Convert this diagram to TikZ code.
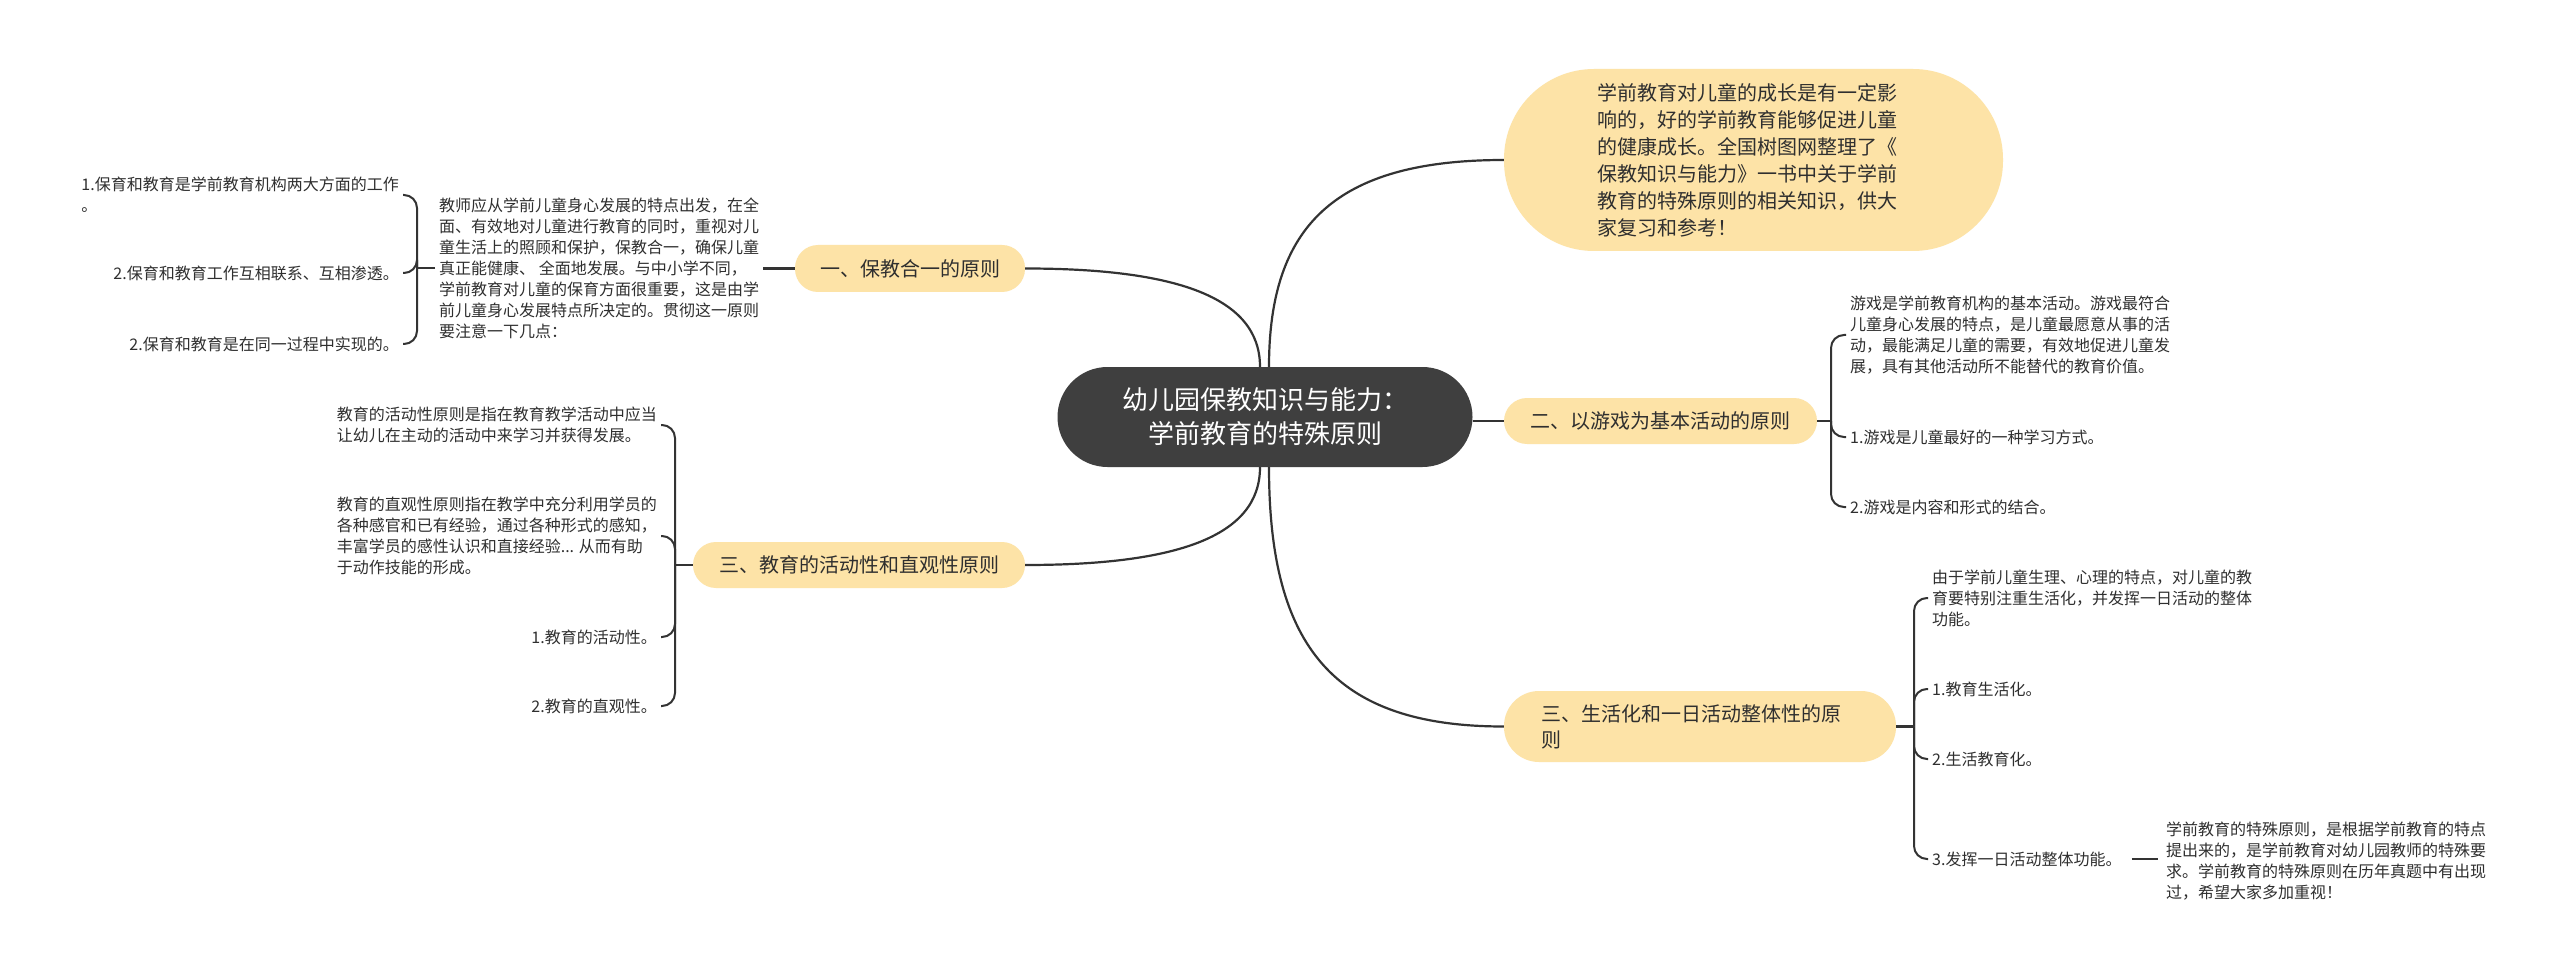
\documentclass[tikz,border=0pt]{standalone}
\usepackage{fontspec}
\setmainfont{Noto Sans CJK SC}
\definecolor{nodefill}{HTML}{FDE3A7}
\definecolor{rootfill}{HTML}{3F3F3F}
\definecolor{linec}{HTML}{333333}
\definecolor{txt}{HTML}{2F2F2F}
\begin{document}
\begin{tikzpicture}[x=1pt,y=-1pt,
  rootnode/.style={fill=rootfill, text=white, rounded corners=50pt, minimum width=415pt, minimum height=100pt, align=center, font=\fontsize{26}{34}\selectfont, inner sep=0pt},
  mainnode/.style={fill=nodefill, text=txt, font=\fontsize{20}{26}\selectfont, inner sep=0pt, align=center},
  small/.style={text=txt, font=\fontsize{16}{21}\selectfont, inner xsep=4pt, inner ysep=2pt, align=left},
  conn/.style={draw=linec, line width=2.2pt},
  brace/.style={draw=linec, line width=2pt, rounded corners=13pt}]
\fill[white] (0,0) rectangle (2560,976);
\useasboundingbox (0,0) rectangle (2560,976);

% root
\node[rootnode] (root) at (1265,417) {幼儿园保教知识与能力：\\学前教育的特殊原则};

% main nodes
\node[mainnode, minimum width=230pt, minimum height=47pt, rounded corners=23pt] (n1) at (910,268.5) {一、保教合一的原则};
\node[mainnode, minimum width=332pt, minimum height=46pt, rounded corners=23pt] (n3L) at (859,565) {三、教育的活动性和直观性原则};
\node[mainnode, minimum width=313pt, minimum height=46pt, rounded corners=23pt] (n2) at (1660.5,421) {二、以游戏为基本活动的原则};
\node[mainnode, minimum width=392pt, minimum height=71pt, rounded corners=35pt, align=left, text width=318pt] (n3R) at (1700,726.5) {三、生活化和一日活动整体性的原\\则};
\node[mainnode, minimum width=499pt, minimum height=182pt, rounded corners=90pt, align=left, text width=313pt, font=\fontsize{20}{27}\selectfont] (bub) at (1753.5,160) {学前教育对儿童的成长是有一定影\\响的，好的学前教育能够促进儿童\\的健康成长。全国树图网整理了《\\保教知识与能力》一书中关于学前\\教育的特殊原则的相关知识，供大\\家复习和参考！};

% root connectors
\draw[conn] ([xshift=-5pt]root.north) .. controls +(0,-70) and +(150,0) .. (n1.east);
\draw[conn] ([xshift=-5pt]root.south) .. controls +(0,70) and +(150,0) .. (n3L.east);
\draw[conn] ([xshift=4pt]root.north) .. controls +(0,-140) and +(-170,0) .. (bub.west);
\draw[conn] ([xshift=4pt]root.south) .. controls +(0,180) and +(-170,0) .. (n3R.west);
\draw[conn] (root.east |- n2.west) -- (n2.west);

% subtree 一
\node[small, anchor=west] (p1) at (435,268) {教师应从学前儿童身心发展的特点出发，在全\\面、有效地对儿童进行教育的同时，重视对儿\\童生活上的照顾和保护，保教合一，确保儿童\\真正能健康、 全面地发展。与中小学不同，\\学前教育对儿童的保育方面很重要，这是由学\\前儿童身心发展特点所决定的。贯彻这一原则\\要注意一下几点：};
\draw[conn] (p1.east |- n1.west) -- (n1.west);
\node[small, anchor=east] (c1a) at (403,195) {1.保育和教育是学前教育机构两大方面的工作\\。};
\node[small, anchor=east] (c1b) at (403,273) {2.保育和教育工作互相联系、互相渗透。};
\node[small, anchor=east] (c1c) at (403,344) {2.保育和教育是在同一过程中实现的。};
\coordinate (j1) at (417,268);
\draw[conn] (p1.west) -- (j1);
\draw[brace] (j1) |- (c1a.east);
\draw[brace] (j1) |- (c1b.east);
\draw[brace] (j1) |- (c1c.east);

% subtree 三 left
\node[small, anchor=east] (c3a) at (661,425) {教育的活动性原则是指在教育教学活动中应当\\让幼儿在主动的活动中来学习并获得发展。};
\node[small, anchor=east] (c3b) at (661,536) {教育的直观性原则指在教学中充分利用学员的\\各种感官和已有经验，通过各种形式的感知，\\丰富学员的感性认识和直接经验... 从而有助\\于动作技能的形成。};
\node[small, anchor=east] (c3c) at (661,637) {1.教育的活动性。};
\node[small, anchor=east] (c3d) at (661,706) {2.教育的直观性。};
\coordinate (j3) at (675,565);
\draw[conn] (n3L.west) -- (j3);
\draw[brace] (j3) |- (c3a.east);
\draw[brace] (j3) |- (c3b.east);
\draw[brace] (j3) |- (c3c.east);
\draw[brace] (j3) |- (c3d.east);

% subtree 二
\node[small, anchor=west] (c2a) at (1846,335) {游戏是学前教育机构的基本活动。游戏最符合\\儿童身心发展的特点，是儿童最愿意从事的活\\动，最能满足儿童的需要，有效地促进儿童发\\展，具有其他活动所不能替代的教育价值。};
\node[small, anchor=west] (c2b) at (1846,437) {1.游戏是儿童最好的一种学习方式。};
\node[small, anchor=west] (c2c) at (1846,507) {2.游戏是内容和形式的结合。};
\coordinate (j2) at (1831,421);
\draw[conn] (n2.east) -- (j2);
\draw[brace] (j2) |- (c2a.west);
\draw[brace] (j2) |- (c2b.west);
\draw[brace] (j2) |- (c2c.west);

% subtree 三 right
\node[small, anchor=west] (c4a) at (1928,598) {由于学前儿童生理、心理的特点，对儿童的教\\育要特别注重生活化，并发挥一日活动的整体\\功能。};
\node[small, anchor=west] (c4b) at (1928,689) {1.教育生活化。};
\node[small, anchor=west] (c4c) at (1928,759) {2.生活教育化。};
\node[small, anchor=west] (c4d) at (1928,859) {3.发挥一日活动整体功能。};
\node[small, anchor=west] (c4e) at (2162,861) {学前教育的特殊原则，是根据学前教育的特点\\提出来的，是学前教育对幼儿园教师的特殊要\\求。学前教育的特殊原则在历年真题中有出现\\过，希望大家多加重视！};
\coordinate (j4) at (1914,726.5);
\draw[conn] (n3R.east) -- (j4);
\draw[brace] (j4) |- (c4a.west);
\draw[brace] (j4) |- (c4b.west);
\draw[brace] (j4) |- (c4c.west);
\draw[brace] (j4) |- (c4d.west);
\draw[conn, shorten <=6pt, shorten >=4pt] (c4d.east) -- (c4e.west |- c4d.east);
\end{tikzpicture}
\end{document}
